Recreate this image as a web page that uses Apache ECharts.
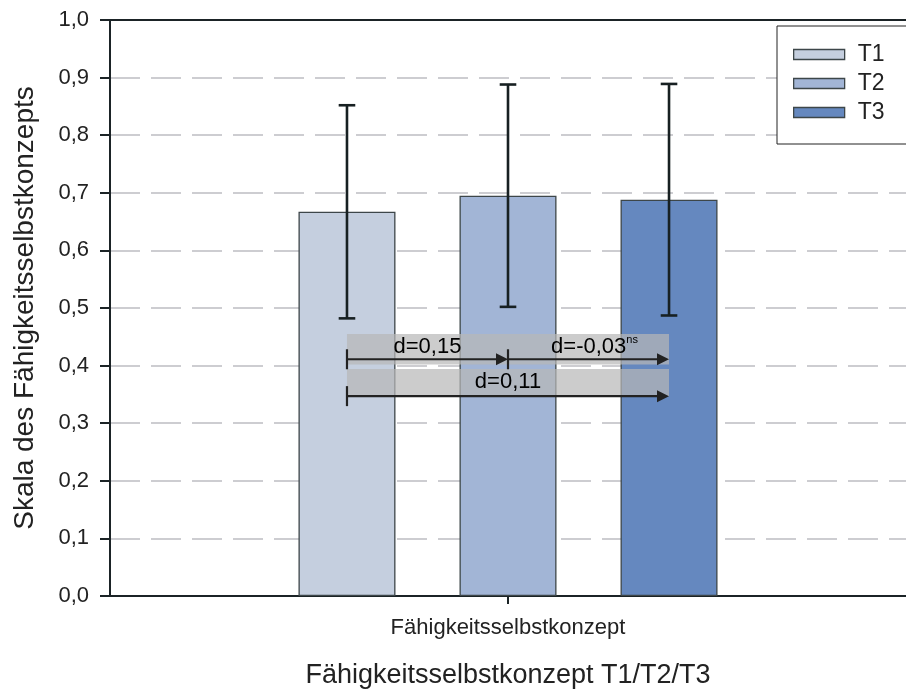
<!DOCTYPE html>
<html>
<head>
<meta charset="utf-8">
<script src="https://cdn.jsdelivr.net/npm/echarts@6/dist/echarts.min.js"></script>
<style>
html,body{margin:0;padding:0;background:#fff;}
#main{width:906px;height:694px;}
</style>
</head>
<body>
<div id="main"></div>
<script>
// ---- data ----
const categories = ['Fähigkeitsselbstkonzept'];
const seriesNames = ['T1', 'T2', 'T3'];
const means = [0.667, 0.695, 0.688];
const sds = [0.185, 0.193, 0.201];
const yTicks = [0, 1, 0.1]; // min, max, interval
const dLabels = ['d=0,15', 'd=-0,03', 'd=0,11'];
const dSup = ['', 'ns', ''];
const dPairs = [[0, 1], [1, 2], [0, 2]];
const dArrowY = [0.411, 0.411, 0.347];
const dBands = [[0.455, 0.402], [0.394, 0.347]]; // top, bottom values
const dTextY = [0.433, 0.371, 0.371];

// ---- styles ----
const colors = ['#c5cfdf', '#a2b5d6', '#6588bf'];
const dark = '#1b2326';
const FONT = '"Liberation Sans", Arial, sans-serif';
const BAR_W = 97;
const BAR_GAP = 0.66;

function seriesOffset(i) {
  return (i - (seriesNames.length - 1) / 2) * BAR_W * (1 + BAR_GAP);
}

const chart = echarts.init(document.getElementById('main'), null, {renderer: 'canvas'});

const barSeries = seriesNames.map((n, i) => ({
  name: n,
  type: 'bar',
  data: [means[i]],
  barWidth: BAR_W,
  barGap: (BAR_GAP * 100) + '%',
  itemStyle: {color: colors[i], borderColor: '#3d4649', borderWidth: 1.3},
  z: 2
}));

const errData = seriesNames.map((n, i) => [0, means[i] - sds[i], means[i] + sds[i], i]);

const errSeries = {
  type: 'custom',
  name: 'err',
  data: errData,
  z: 5,
  silent: true,
  renderItem: function (params, api) {
    const si = api.value(3);
    const lo = api.coord([api.value(0), api.value(1)]);
    const hi = api.coord([api.value(0), api.value(2)]);
    const x = lo[0] + seriesOffset(si);
    const cap = 8.3;
    const st = {stroke: '#172022', lineWidth: 2.6};
    return {
      type: 'group',
      children: [
        {type: 'line', shape: {x1: x, y1: lo[1], x2: x, y2: hi[1]}, style: st},
        {type: 'line', shape: {x1: x - cap, y1: lo[1], x2: x + cap, y2: lo[1]}, style: st},
        {type: 'line', shape: {x1: x - cap, y1: hi[1], x2: x + cap, y2: hi[1]}, style: st}
      ]
    };
  }
};

const bandSeries = {
  type: 'custom',
  name: 'bands',
  data: dBands.map(b => [0, b[0], b[1]]),
  z: 6,
  silent: true,
  renderItem: function (params, api) {
    const t = api.coord([0, api.value(1)]);
    const b = api.coord([0, api.value(2)]);
    const x1 = t[0] + seriesOffset(0);
    const x2 = t[0] + seriesOffset(seriesNames.length - 1);
    return {
      type: 'rect',
      shape: {x: x1, y: t[1], width: x2 - x1, height: b[1] - t[1]},
      style: {fill: 'rgba(183,183,183,0.71)'}
    };
  }
};

const arrowSeries = {
  type: 'custom',
  name: 'arrows',
  data: dPairs.map((p, k) => [0, p[0], p[1], dArrowY[k], k === 2 ? 0.372 : 0.433, k]),
  z: 7,
  silent: true,
  renderItem: function (params, api) {
    const k = api.value(5);
    const c = api.coord([0, api.value(3)]);
    const ct = api.coord([0, api.value(4)]);
    const xa = c[0] + seriesOffset(api.value(1));
    const xb = c[0] + seriesOffset(api.value(2));
    const y = c[1];
    const st = {stroke: '#222', lineWidth: 2.2};
    const head = 12, hh = 6;
    const children = [
      {type: 'line', shape: {x1: xa, y1: y, x2: xb - head + 1, y2: y}, style: st},
      {type: 'line', shape: {x1: xa, y1: y - 10, x2: xa, y2: y + 10}, style: st},
      {type: 'polygon', shape: {points: [[xb, y], [xb - head, y - hh], [xb - head, y + hh]]}, style: {fill: '#222'}},
      {type: 'text', style: {
        x: (xa + xb) / 2 + (dSup[k] ? 6 : 0), y: ct[1],
        text: dSup[k] ? '{m|' + dLabels[k] + '}{s|' + dSup[k] + '}' : '{m|' + dLabels[k] + '}',
        align: 'center', verticalAlign: 'middle',
        rich: {
          m: {fontSize: 22, fontFamily: FONT, color: '#2a2a2a'},
          s: {fontSize: 11, fontFamily: FONT, color: '#2a2a2a', verticalAlign: 'top', padding: [0, 0, 14, 0]}
        }
      }}
    ];
    return {type: 'group', children: children};
  }
};

const option = {
  animation: false,
  backgroundColor: '#ffffff',
  textStyle: {fontFamily: FONT},
  legend: {
    data: seriesNames,
    orient: 'vertical',
    left: 777,
    top: 26,
    icon: 'rect',
    itemWidth: 51,
    itemHeight: 10,
    itemGap: 6,
    padding: [17, 40, 20, 16],
    borderColor: '#222',
    borderWidth: 1,
    backgroundColor: '#fff',
    textStyle: {fontFamily: FONT, fontSize: 23, color: '#222', padding: [0, 0, 0, 8]},
    itemStyle: {borderColor: '#3d4649', borderWidth: 1.3}
  },
  grid: {left: 110, top: 20, width: 804, height: 580, containLabel: false},
  xAxis: [{
    type: 'category',
    data: categories,
    name: 'Fähigkeitsselbstkonzept T1/T2/T3',
    nameLocation: 'middle',
    nameGap: 66,
    nameTextStyle: {fontFamily: FONT, fontSize: 27, color: '#222'},
    axisLine: {lineStyle: {color: dark, width: 2}},
    axisTick: {show: true, alignWithLabel: true, length: 8, lineStyle: {color: dark, width: 2}},
    axisLabel: {fontFamily: FONT, fontSize: 22, color: '#222', margin: 21},
    splitLine: {show: false}
  }, {
    type: 'category',
    data: categories,
    position: 'top',
    axisLine: {show: true, lineStyle: {color: dark, width: 2}},
    axisTick: {show: false},
    axisLabel: {show: false}
  }],
  yAxis: {
    type: 'value',
    min: yTicks[0],
    max: yTicks[1],
    interval: yTicks[2],
    name: 'Skala des Fähigkeitsselbstkonzepts',
    nameLocation: 'middle',
    nameGap: 71,
    nameTextStyle: {fontFamily: FONT, fontSize: 28, color: '#222'},
    axisLine: {show: true, lineStyle: {color: dark, width: 2}},
    axisTick: {show: true, length: 10, lineStyle: {color: dark, width: 2}},
    axisLabel: {
      fontFamily: FONT, fontSize: 22, color: '#222', margin: 21,
      formatter: v => v.toFixed(1).replace('.', ',')
    },
    splitLine: {show: true, lineStyle: {color: '#cdcdd1', width: 2, type: [30, 11]}}
  },
  series: [...barSeries, errSeries, bandSeries, arrowSeries]
};

chart.setOption(option);
</script>
</body>
</html>
